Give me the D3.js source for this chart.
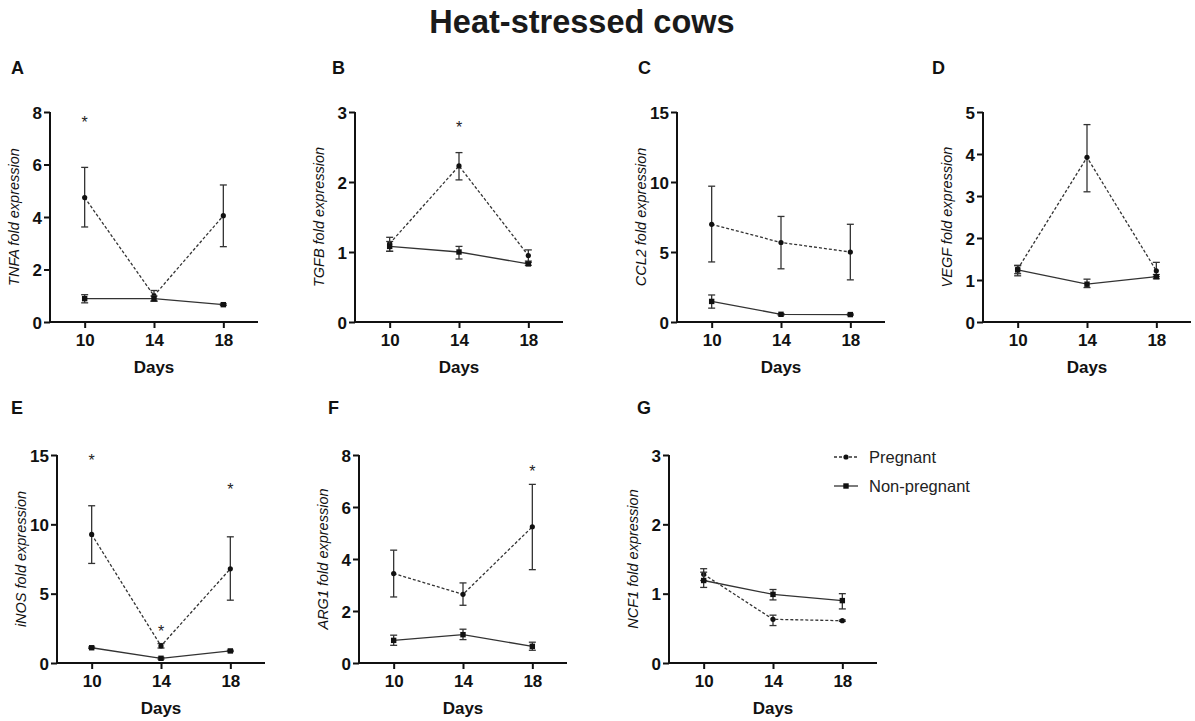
<!DOCTYPE html>
<html>
<head>
<meta charset="utf-8">
<script src="https://cdn.jsdelivr.net/npm/d3@7"></script>
<style>
body { margin:0; background:#fff; }
svg { font-family: "Liberation Sans", Arial, sans-serif; }
</style>
</head>
<body>
<div id="chart"></div>
<script>
// values
const days = [10, 14, 18]
const panelLetters = ["A", "B", "C", "D", "E", "F", "G"]
const genes = ["TNFA", "TGFB", "CCL2", "VEGF", "iNOS", "ARG1", "NCF1"]
const yMaxes = [8, 3, 15, 5, 15, 8, 3]
const yTicks = [[0,2,4,6,8], [0,1,2,3], [0,5,10,15], [0,1,2,3,4,5], [0,5,10,15], [0,2,4,6,8], [0,1,2,3]]

const pregMean = [[4.74, 1.0, 4.05], [1.12, 2.23, 0.95], [6.98, 5.68, 5.0], [1.26, 3.92, 1.22], [9.27, 1.23, 6.79], [3.44, 2.64, 5.24], [1.28, 0.63, 0.61]]
const pregHi = [[5.89, 1.2, 5.22], [1.21, 2.42, 1.03], [9.7, 7.54, 6.98], [1.35, 4.7, 1.42], [11.34, 1.4, 9.1], [4.34, 3.08, 6.87], [1.36, 0.69, 0.62]]
const pregLo = [[3.62, 0.8, 2.87], [1.01, 2.03, 0.87], [4.29, 3.8, 3.01], [1.15, 3.1, 1.08], [7.18, 1.08, 4.53], [2.54, 2.22, 3.59], [1.19, 0.54, 0.60]]

const nonMean = [[0.89, 0.89, 0.66], [1.08, 1.0, 0.83], [1.47, 0.55, 0.53], [1.24, 0.9, 1.08], [1.1, 0.34, 0.87], [0.87, 1.09, 0.64], [1.19, 0.99, 0.9]]
const nonHi = [[1.04, 0.99, 0.69], [1.15, 1.08, 0.85], [1.93, 0.6, 0.57], [1.34, 1.02, 1.13], [1.15, 0.4, 0.92], [1.07, 1.3, 0.8], [1.31, 1.06, 1.0]]
const nonLo = [[0.73, 0.79, 0.63], [1.01, 0.9, 0.81], [0.99, 0.5, 0.49], [1.1, 0.82, 1.03], [1.05, 0.28, 0.82], [0.68, 0.9, 0.49], [1.09, 0.91, 0.78]]

// significance stars: [panel index, day, y value]
const stars = [[0, 10, 7.7], [1, 14, 2.82], [4, 10, 14.76], [4, 14, 2.48], [4, 18, 12.67], [5, 18, 7.48]]

const seriesNames = ["Pregnant", "Non-pregnant"]

// layout
const width = 1195
const height = 721
const plotW = 208
const axisXs = [50, 355, 677, 983, 57, 359, 669]
const rowTop = [112, 112, 112, 112, 455, 455, 455]
const rowBottom = [322, 322, 322, 322, 663, 663, 663]
const lineColor = "#333"

const svg = d3.select("#chart").append("svg")
  .attr("width", width)
  .attr("height", height)
  .attr("viewBox", `0 0 ${width} ${height}`)

svg.append("text")
  .text("Heat-stressed cows")
  .attr("x", 582)
  .attr("y", 33)
  .attr("text-anchor", "middle")
  .attr("font-size", 32.5)
  .attr("font-weight", "bold")
  .attr("fill", "#1a1a1a")

const drawPanel = (p) => {
  const x0 = axisXs[p]
  const g = svg.append("g")

  const xScale = d3.scaleLinear().domain([8, 20]).range([x0, x0 + plotW])
  const yScale = d3.scaleLinear().domain([0, yMaxes[p]]).range([rowBottom[p], rowTop[p]])

  // panel letter
  g.append("text")
    .text(panelLetters[p])
    .attr("x", p < 4 ? [11, 332, 638, 932][p] : [11, 328, 637][p - 4])
    .attr("y", p < 4 ? 74 : 414)
    .attr("font-size", 18)
    .attr("font-weight", "bold")
    .attr("fill", "#111")

  const yAxis = d3.axisLeft(yScale)
    .tickValues(yTicks[p])
    .tickFormat(d3.format("d"))
    .tickSize(6)
    .tickPadding(2)
    .tickSizeOuter(0)
  const yAxisGroup = g.append("g")
    .attr("transform", `translate(${x0},0)`)
    .call(yAxis)

  const xAxis = d3.axisBottom(xScale)
    .tickValues(days)
    .tickSize(6)
    .tickPadding(6)
    .tickSizeOuter(0)
  const xAxisGroup = g.append("g")
    .attr("transform", `translate(0,${rowBottom[p]})`)
    .call(xAxis)

  ;[xAxisGroup, yAxisGroup].forEach(ax => {
    ax.attr("font-family", null).attr("font-size", null)
    ax.select(".domain").attr("stroke", "#111").attr("stroke-width", 2)
    ax.selectAll(".tick line").attr("stroke", "#111").attr("stroke-width", 2)
    ax.selectAll(".tick text")
      .attr("font-size", 17)
      .attr("font-weight", "bold")
      .attr("fill", "#111")
  })
  yAxisGroup.selectAll(".tick text").attr("dy", "0.36em")
  // start domain at the axis corner
  yAxisGroup.select(".domain").attr("d", `M0,${rowBottom[p] + 1}V${rowTop[p]}`)
  xAxisGroup.select(".domain").attr("d", `M${x0 - 1},0H${x0 + plotW}`)

  // x title
  g.append("text")
    .text("Days")
    .attr("x", xScale(14))
    .attr("y", rowBottom[p] + 51)
    .attr("text-anchor", "middle")
    .attr("font-size", 17)
    .attr("font-weight", "bold")
    .attr("fill", "#111")

  // y title
  const labelX = x0 - 31
  const labelY = (rowTop[p] + rowBottom[p]) / 2
  const yTitle = g.append("text")
    .attr("transform", `translate(${labelX},${labelY}) rotate(-90)`)
    .attr("text-anchor", "middle")
    .attr("font-size", 14.5)
    .attr("font-style", "italic")
    .attr("fill", "#111")
  yTitle.append("tspan").text(genes[p])
  yTitle.append("tspan").text(" fold expression")

  const series = [
    { mean: pregMean[p], lo: pregLo[p], hi: pregHi[p], dash: "3,2", shape: "circle" },
    { mean: nonMean[p], lo: nonLo[p], hi: nonHi[p], dash: null, shape: "square" }
  ]

  const line = d3.line()
    .x((d, i) => xScale(days[i]))
    .y(d => yScale(d))

  series.forEach(s => {
    const sg = g.append("g")
    sg.append("path")
      .datum(s.mean)
      .attr("d", line)
      .attr("fill", "none")
      .attr("stroke", lineColor)
      .attr("stroke-width", 1.3)
      .attr("stroke-dasharray", s.dash)

    // error bars
    const eb = sg.selectAll(".err").data(s.mean).enter().append("g")
    eb.append("line")
      .attr("x1", (d, i) => xScale(days[i]))
      .attr("x2", (d, i) => xScale(days[i]))
      .attr("y1", (d, i) => yScale(s.lo[i]))
      .attr("y2", (d, i) => yScale(s.hi[i]))
      .attr("stroke", lineColor)
      .attr("stroke-width", 1.3)
    ;["lo", "hi"].forEach(k => {
      eb.append("line")
        .attr("x1", (d, i) => xScale(days[i]) - 3.5)
        .attr("x2", (d, i) => xScale(days[i]) + 3.5)
        .attr("y1", (d, i) => yScale(s[k][i]))
        .attr("y2", (d, i) => yScale(s[k][i]))
        .attr("stroke", lineColor)
        .attr("stroke-width", 1.3)
    })

    if (s.shape === "circle") {
      sg.selectAll("circle").data(s.mean).enter().append("circle")
        .attr("cx", (d, i) => xScale(days[i]))
        .attr("cy", d => yScale(d))
        .attr("r", 2.6)
        .attr("fill", "#111")
    } else {
      sg.selectAll("rect").data(s.mean).enter().append("rect")
        .attr("x", (d, i) => xScale(days[i]) - 2.7)
        .attr("y", d => yScale(d) - 2.7)
        .attr("width", 5.4)
        .attr("height", 5.4)
        .attr("fill", "#111")
    }
  })

  stars.filter(s => s[0] === p).forEach(s => {
    g.append("text")
      .text("*")
      .attr("x", xScale(s[1]))
      .attr("y", yScale(s[2]) + 8)
      .attr("text-anchor", "middle")
      .attr("font-size", 16)
      .attr("fill", "#222")
  })

  return { xScale, yScale }
}

genes.forEach((gname, p) => drawPanel(p))

// legend next to panel G
const legend = svg.append("g").attr("transform", "translate(834,457)")
seriesNames.forEach((name, i) => {
  const lg = legend.append("g").attr("transform", `translate(0,${i * 29})`)
  lg.append("line")
    .attr("x1", 0).attr("x2", 24)
    .attr("stroke", lineColor)
    .attr("stroke-width", 1.3)
    .attr("stroke-dasharray", i === 0 ? "3,2" : null)
  if (i === 0) {
    lg.append("circle").attr("cx", 12).attr("r", 2.6).attr("fill", "#111")
  } else {
    lg.append("rect").attr("x", 9.3).attr("y", -2.7).attr("width", 5.4).attr("height", 5.4).attr("fill", "#111")
  }
  lg.append("text")
    .text(name)
    .attr("x", 35)
    .attr("y", 6)
    .attr("font-size", 16.5)
    .attr("fill", "#222")
})
</script>
</body>
</html>
